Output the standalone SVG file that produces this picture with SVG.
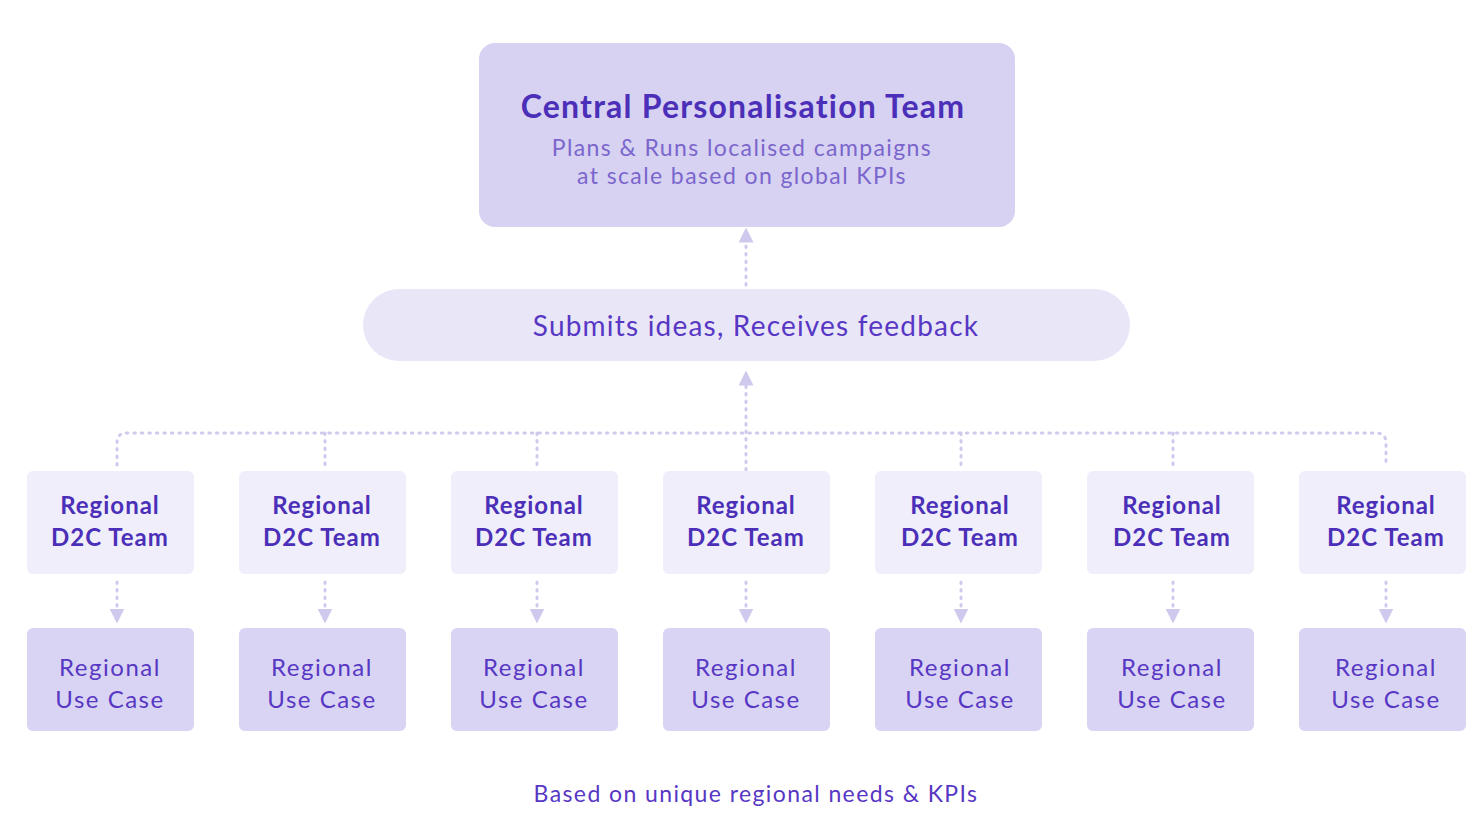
<svg xmlns="http://www.w3.org/2000/svg" width="1483" height="824" viewBox="0 0 1483 824">
<defs>
<style>
text{font-family:"Lato","Noto Sans",sans-serif;text-anchor:middle}
.t{fill:#4b2fb8;font-weight:700;font-size:24px;letter-spacing:1px}
.u{fill:#5737c4;font-size:24px;letter-spacing:1.5px}
.team{fill:#efeefa}
.uc{fill:#d9d4f3}
.c{fill:none;stroke:#cfc9ee;stroke-width:3;stroke-dasharray:1.5 6;stroke-linecap:round}
</style>
<marker id="ar" viewBox="0 0 10 10" refX="5" refY="5" markerWidth="5" markerHeight="5" orient="auto">
<path d="M0,0L10,5L0,10z" fill="#cfc9ee"/>
</marker>
</defs>
<rect width="1483" height="824" fill="#fff"/>
<g id="connectors">
<path class="c" d="M117,465V443Q117,433 127,433H1376Q1386,433 1386,443V465"/>
<path class="c" d="M325,433V465M537,433V465M961,433V465M1173,433V465"/>
<path class="c" d="M746,470V378" marker-end="url(#ar)"/>
<path class="c" d="M746,285V235" marker-end="url(#ar)"/>
<path class="c" d="M117,582V616" marker-end="url(#ar)"/>
<path class="c" d="M325,582V616" marker-end="url(#ar)"/>
<path class="c" d="M537,582V616" marker-end="url(#ar)"/>
<path class="c" d="M746,582V616" marker-end="url(#ar)"/>
<path class="c" d="M961,582V616" marker-end="url(#ar)"/>
<path class="c" d="M1173,582V616" marker-end="url(#ar)"/>
<path class="c" d="M1386,582V616" marker-end="url(#ar)"/>
</g>
<g id="central">
<rect x="479" y="43" width="536" height="184" rx="16" fill="#d7d1f2"/>
<text x="743" y="118" class="t" style="font-size:32px;letter-spacing:1.2px">Central Personalisation Team</text>
<text x="742" y="156" fill="#7a66cc" font-size="23" letter-spacing="1.4">Plans &amp; Runs localised campaigns</text>
<text x="742" y="184" fill="#7a66cc" font-size="23" letter-spacing="1.4">at scale based on global KPIs</text>
</g>
<g id="pill">
<rect x="363" y="289" width="767" height="72" rx="36" fill="#e9e6f8"/>
<text x="756" y="336" class="u" style="font-size:28px;letter-spacing:1.2px">Submits ideas, Receives feedback</text>
</g>
<g id="teams">
<g id="team1"><rect class="team" x="27" y="471" width="167" height="103" rx="6"/><text class="t" x="110" y="514">Regional</text><text class="t" x="110" y="546">D2C Team</text></g>
<g id="team2"><rect class="team" x="239" y="471" width="167" height="103" rx="6"/><text class="t" x="322" y="514">Regional</text><text class="t" x="322" y="546">D2C Team</text></g>
<g id="team3"><rect class="team" x="451" y="471" width="167" height="103" rx="6"/><text class="t" x="534" y="514">Regional</text><text class="t" x="534" y="546">D2C Team</text></g>
<g id="team4"><rect class="team" x="663" y="471" width="167" height="103" rx="6"/><text class="t" x="746" y="514">Regional</text><text class="t" x="746" y="546">D2C Team</text></g>
<g id="team5"><rect class="team" x="875" y="471" width="167" height="103" rx="6"/><text class="t" x="960" y="514">Regional</text><text class="t" x="960" y="546">D2C Team</text></g>
<g id="team6"><rect class="team" x="1087" y="471" width="167" height="103" rx="6"/><text class="t" x="1172" y="514">Regional</text><text class="t" x="1172" y="546">D2C Team</text></g>
<g id="team7"><rect class="team" x="1299" y="471" width="167" height="103" rx="6"/><text class="t" x="1386" y="514">Regional</text><text class="t" x="1386" y="546">D2C Team</text></g>
</g>
<g id="usecases">
<g id="uc1"><rect class="uc" x="27" y="628" width="167" height="103" rx="6"/><text class="u" x="110" y="676">Regional</text><text class="u" x="110" y="708">Use Case</text></g>
<g id="uc2"><rect class="uc" x="239" y="628" width="167" height="103" rx="6"/><text class="u" x="322" y="676">Regional</text><text class="u" x="322" y="708">Use Case</text></g>
<g id="uc3"><rect class="uc" x="451" y="628" width="167" height="103" rx="6"/><text class="u" x="534" y="676">Regional</text><text class="u" x="534" y="708">Use Case</text></g>
<g id="uc4"><rect class="uc" x="663" y="628" width="167" height="103" rx="6"/><text class="u" x="746" y="676">Regional</text><text class="u" x="746" y="708">Use Case</text></g>
<g id="uc5"><rect class="uc" x="875" y="628" width="167" height="103" rx="6"/><text class="u" x="960" y="676">Regional</text><text class="u" x="960" y="708">Use Case</text></g>
<g id="uc6"><rect class="uc" x="1087" y="628" width="167" height="103" rx="6"/><text class="u" x="1172" y="676">Regional</text><text class="u" x="1172" y="708">Use Case</text></g>
<g id="uc7"><rect class="uc" x="1299" y="628" width="167" height="103" rx="6"/><text class="u" x="1386" y="676">Regional</text><text class="u" x="1386" y="708">Use Case</text></g>
</g>
<text x="756" y="802" class="u" style="font-size:23px;letter-spacing:1.4px">Based on unique regional needs &amp; KPIs</text>
</svg>
